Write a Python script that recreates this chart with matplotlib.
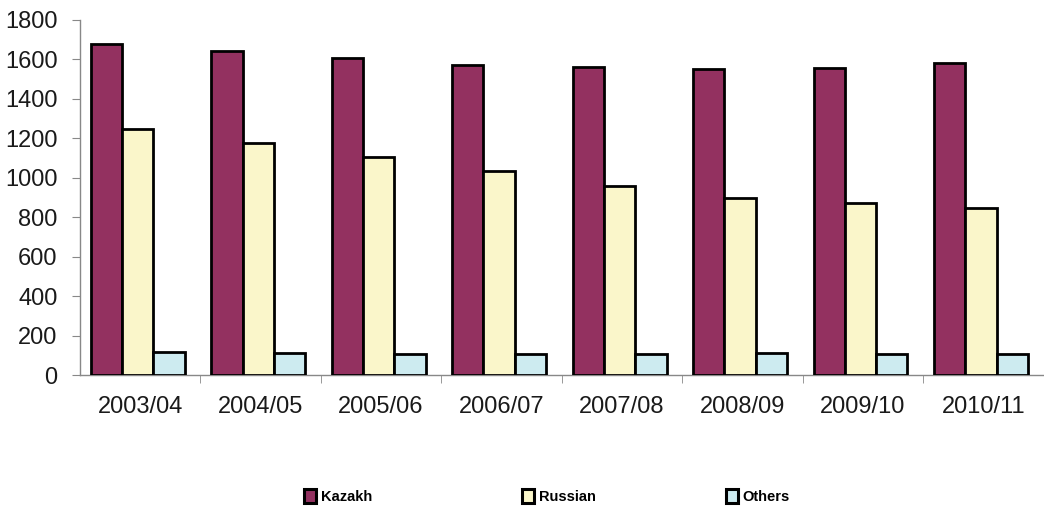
import matplotlib
matplotlib.use("Agg")
import matplotlib.pyplot as plt
import numpy as np
from matplotlib.patches import Patch

categories = ["2003/04", "2004/05", "2005/06", "2006/07", "2007/08", "2008/09", "2009/10", "2010/11"]
kazakh = [1677, 1640, 1606, 1573, 1562, 1550, 1558, 1580]
russian = [1247, 1178, 1105, 1034, 960, 896, 874, 847]
others = [115, 110, 108, 108, 105, 111, 105, 106]
series_names = ["Kazakh", "Russian", "Others"]
colors = ["#933160", "#FAF6CA", "#CDEBF0"]

plt.rcParams['font.family'] = ['Liberation Sans', 'DejaVu Sans']

fig = plt.figure(figsize=(10.44, 5.09), dpi=100)
ax = fig.add_axes([0.0766, 0.263, 0.923, 0.698])

x = np.arange(len(categories))
w = 0.26
for i, (vals, c) in enumerate(zip([kazakh, russian, others], colors)):
    ax.bar(x + (i - 1) * w - 0.02, vals, width=w, color=c, edgecolor="black", linewidth=2, zorder=3)

ax.set_xlim(-0.5, len(categories) - 0.5)
ax.set_ylim(0, 1800)
ax.set_yticks(np.arange(0, 1801, 200))
ax.set_xticks(x)
ax.set_xticklabels(categories)
ax.set_xticks(np.arange(0.5, len(categories) - 0.5, 1), minor=True)
ax.tick_params(axis='x', which='major', length=0, pad=15, labelsize=17, colors='#1a1a1a')
ax.tick_params(axis='x', which='minor', length=6, color='#888888', direction='out')
ax.tick_params(axis='y', length=6, color='#888888', labelsize=17, labelcolor='#1a1a1a', pad=10)

for s in ['top', 'right']:
    ax.spines[s].set_visible(False)
for s in ['left', 'bottom']:
    ax.spines[s].set_color('#888888')
    ax.spines[s].set_linewidth(1)

legend_x = [308, 526, 730]
for name, c, lx in zip(series_names, colors, legend_x):
    h = Patch(facecolor=c, edgecolor='black', linewidth=2.2)
    fig.legend([h], [name], loc='center left', bbox_to_anchor=(lx / 1044 - 0.004, 0.024),
               frameon=False, handlelength=0.85, handleheight=1.1, handletextpad=0.3,
               borderpad=0, borderaxespad=0,
               prop={'family': ['Liberation Sans', 'DejaVu Sans'], 'weight': 'bold', 'size': 10.5})

fig.savefig("out.png", dpi=100)
